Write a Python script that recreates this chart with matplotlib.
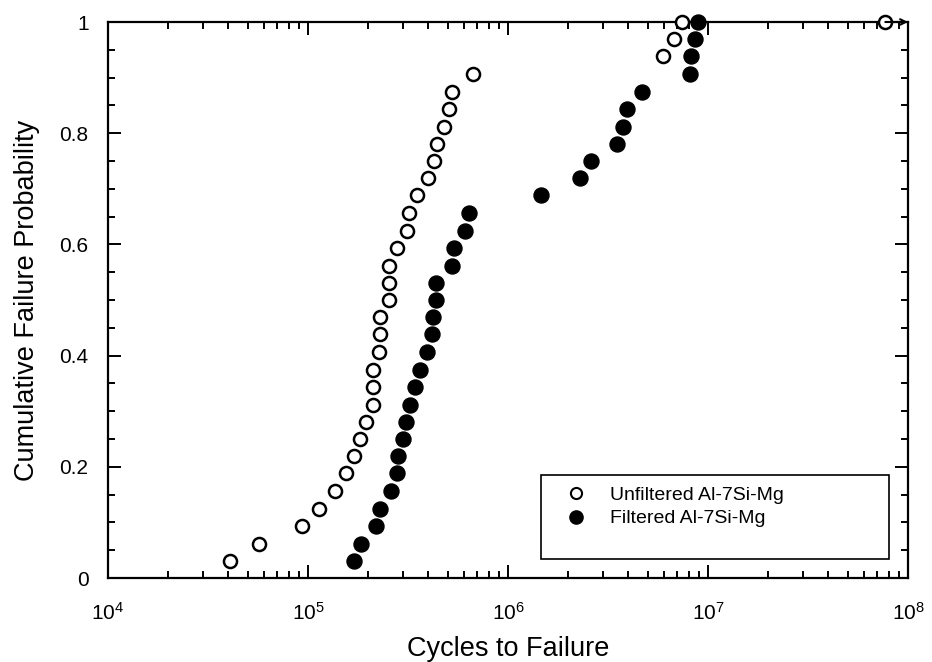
import matplotlib
matplotlib.use("Agg")
import matplotlib.pyplot as plt
from matplotlib.patches import Rectangle
from matplotlib.lines import Line2D
from matplotlib.ticker import LogLocator, MultipleLocator, LogFormatterMathtext

plt.rcParams['font.family'] = ['Liberation Sans', 'DejaVu Sans']
plt.rcParams['mathtext.default'] = 'regular'

# Unfiltered Al-7Si-Mg (cycles to failure, cumulative failure probability)
unfiltered_cycles = [40.7e3, 57e3, 93.7e3, 114e3, 136e3, 154e3, 170e3, 182e3,
                     195e3, 211e3, 211e3, 211e3, 227e3, 229e3, 229e3, 255e3,
                     255e3, 255e3, 278e3, 314e3, 319e3, 352e3, 398e3, 425e3,
                     440e3, 481e3, 505e3, 523e3, 671e3, 5.93e6, 6.78e6, 7.44e6]
unfiltered_prob = [0.031, 0.062, 0.094, 0.125, 0.156, 0.188, 0.219, 0.250,
                   0.281, 0.312, 0.344, 0.375, 0.406, 0.438, 0.469, 0.500,
                   0.531, 0.562, 0.594, 0.625, 0.656, 0.688, 0.719, 0.750,
                   0.781, 0.812, 0.844, 0.875, 0.906, 0.938, 0.969, 1.000]
# run-out specimen (did not fail)
runout_cycles = [7.7e7]
runout_prob = [1.0]

# Filtered Al-7Si-Mg
filtered_cycles = [170e3, 185e3, 219e3, 230e3, 259e3, 278e3, 282e3, 297e3,
                   309e3, 322e3, 341e3, 363e3, 395e3, 415e3, 423e3, 437e3,
                   437e3, 527e3, 537e3, 610e3, 636e3, 1.46e6, 2.29e6, 2.6e6,
                   3.49e6, 3.77e6, 3.92e6, 4.69e6, 8.13e6, 8.2e6, 8.6e6, 8.95e6]
filtered_prob = [0.031, 0.062, 0.094, 0.125, 0.156, 0.188, 0.219, 0.250,
                 0.281, 0.312, 0.344, 0.375, 0.406, 0.438, 0.469, 0.500,
                 0.531, 0.562, 0.594, 0.625, 0.656, 0.688, 0.719, 0.750,
                 0.781, 0.812, 0.844, 0.875, 0.906, 0.938, 0.969, 1.000]

labels = ['Unfiltered Al-7Si-Mg', 'Filtered Al-7Si-Mg']

fig = plt.figure(figsize=(9.32, 6.62), dpi=100)
ax = fig.add_axes([108/932, 1 - 578/662, 800/932, 556/662])

ax.plot(unfiltered_cycles, unfiltered_prob, linestyle='none', marker='o',
        markersize=9.4, markerfacecolor='white', markeredgecolor='black',
        markeredgewidth=1.8, clip_on=False, zorder=3)
ax.plot(filtered_cycles, filtered_prob, linestyle='none', marker='o',
        markersize=10.8, markerfacecolor='black', markeredgecolor='black',
        clip_on=False, zorder=3)
ax.plot(runout_cycles, runout_prob, linestyle='none', marker='o',
        markersize=9.4, markerfacecolor='white', markeredgecolor='black',
        markeredgewidth=1.8, clip_on=False, zorder=3)
ax.annotate('', xy=(1.0e8, runout_prob[0]), xytext=(runout_cycles[0], runout_prob[0]),
            arrowprops=dict(arrowstyle='->', color='black', lw=1.5,
                            shrinkA=0, shrinkB=0), annotation_clip=False, zorder=4)

ax.set_xscale('log')
ax.set_xlim(1e4, 1e8)
ax.set_ylim(0, 1)

ax.xaxis.set_major_locator(LogLocator(base=10, numticks=10))
ax.xaxis.set_minor_locator(LogLocator(base=10, subs=range(2, 10), numticks=20))
ax.xaxis.set_major_formatter(LogFormatterMathtext())
ax.yaxis.set_major_locator(MultipleLocator(0.2))
ax.yaxis.set_minor_locator(MultipleLocator(0.05))
ax.set_yticks([0, 0.2, 0.4, 0.6, 0.8, 1.0])
ax.set_yticklabels(['0', '0.2', '0.4', '0.6', '0.8', '1'])

ax.tick_params(which='both', direction='in', top=True, right=True,
               color='black', width=1.4)
ax.tick_params(which='major', length=9.5)
ax.tick_params(which='minor', length=5)
ax.tick_params(axis='x', which='major', labelsize=15, pad=17)
ax.tick_params(axis='y', which='major', labelsize=15, pad=14)

for s in ax.spines.values():
    s.set_linewidth(1.6)
    s.set_color('black')

ax.set_xlabel('Cycles to Failure', fontsize=19.5, labelpad=9)
ax.set_ylabel('Cumulative Failure Probability', fontsize=19.5, labelpad=14)

# legend box
ax.add_patch(Rectangle((0.541, 0.034), 0.435, 0.151, transform=ax.transAxes,
                       fill=False, edgecolor='black', linewidth=1.2, zorder=5))
handles = [Line2D([], [], linestyle='none', marker='o', markersize=8,
                  markerfacecolor='white', markeredgecolor='black', markeredgewidth=1.5),
           Line2D([], [], linestyle='none', marker='o', markersize=9.5,
                  markerfacecolor='black', markeredgecolor='black')]
ax.legend(handles, labels, loc='upper left', bbox_to_anchor=(0.5725, 0.165),
          frameon=False, fontsize=14, handlelength=1.0, handletextpad=1.25,
          borderpad=0, borderaxespad=0, labelspacing=0.3)

fig.savefig('out.png', dpi=100)
